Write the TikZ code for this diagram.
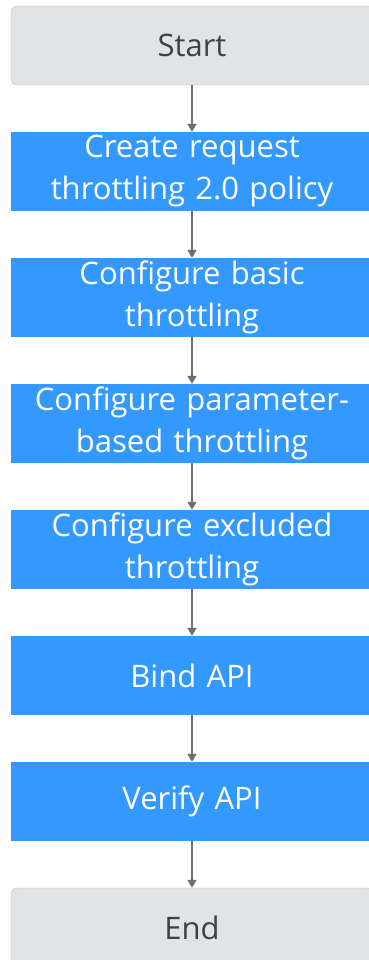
\documentclass[tikz,border=0pt]{standalone}
\usepackage{fontspec}
\setmainfont{Open Sans}
\usepackage{xcolor}
\usetikzlibrary{positioning,arrows.meta}

\definecolor{stepblue}{HTML}{3399FF}
\definecolor{endgray}{HTML}{E1E4E6}
\definecolor{arrowgray}{HTML}{6E6E6E}

\begin{document}
\begin{tikzpicture}[x=1pt,y=1pt,
    node distance=46.6pt,
    box/.style={minimum width=362pt, minimum height=79pt, inner sep=0pt,
        text width=350pt, align=center,
        font=\fontsize{31}{42}\selectfont},
    stepbox/.style={box, fill=stepblue, text=white},
    endbox/.style={box, fill=endgray, draw=endgray!85!black, line width=0.4pt,
        rounded corners=6pt, text=black!75},
    flow/.style={-{Triangle[length=8pt,width=9pt]}, draw=arrowgray, line width=1.6pt}]
    \useasboundingbox (0,0) rectangle (369,-960);
    \node[endbox] (start) at (192,-45.5) {Start};
    \node[stepbox, below=of start] (create) {Create request\\throttling 2.0 policy};
    \node[stepbox, below=of create] (basic) {Configure basic\\throttling};
    \node[stepbox, below=of basic] (param) {Configure parameter-\\based throttling};
    \node[stepbox, below=of param] (excl) {Configure excluded\\throttling};
    \node[stepbox, below=of excl] (bind) {Bind API};
    \node[stepbox, below=of bind] (verify) {Verify API};
    \node[endbox, below=of verify] (end) {End};
    % arrows
    \foreach \a/\b in {start/create, create/basic, basic/param, param/excl,
                       excl/bind, bind/verify, verify/end}
        \draw[flow] (\a) -- (\b);
\end{tikzpicture}
\end{document}
